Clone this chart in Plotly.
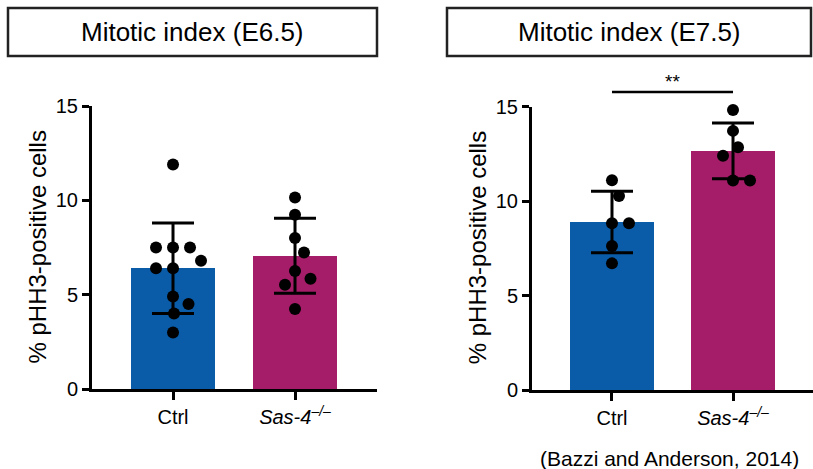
import numpy as np
import plotly.graph_objects as go

# ---------------- data ----------------
categories = ["Ctrl", "Sas-4"]
tick_labels = ["Ctrl", "<i>Sas-4</i><sup><i>–/–</i></sup>"]
panel_titles = ["Mitotic index (E6.5)", "Mitotic index (E7.5)"]
y_title = "% pHH3-positive cells"
y_ticks = [0, 5, 10, 15]

e65_ctrl = [11.9, 7.5, 7.5, 7.5, 6.8, 6.4, 6.4, 4.9, 4.5, 4.0, 3.0]
e65_sas4 = [10.15, 9.23, 8.0, 7.23, 6.26, 5.84, 5.52, 4.24]
e75_ctrl = [11.1, 10.27, 8.82, 8.82, 7.62, 6.7]
e75_sas4 = [14.82, 13.71, 12.85, 12.39, 11.08, 11.08]
significance = "**"
caption = "(Bazzi and Anderson, 2014)"

# ---------------- style / layout ----------------
W, H = 813, 469
BLUE = "#0a5ca8"
MAGENTA = "#a51d68"
FONT = "Liberation Sans, Arial, Helvetica, sans-serif"

# pixel geometry of the two panels
panels = [
    dict(x0=92, x1=377, y0=106, y1=389, xr=[-0.664, 1.672]),
    dict(x0=532, x1=813, y0=106.5, y1=390, xr=[-0.661, 1.661]),
]
YR = [0, 15]
MS = 12  # marker diameter px


def px_x(p, v):
    return p["x0"] + (v - p["xr"][0]) / (p["xr"][1] - p["xr"][0]) * (p["x1"] - p["x0"])


def beeswarm(vals, p, gap=17.0):
    """horizontal offsets (data units) so dots do not crowd each other"""
    upx = (p["x1"] - p["x0"]) / (p["xr"][1] - p["xr"][0])
    upy = (p["y1"] - p["y0"]) / (YR[1] - YR[0])
    cands = sorted(set([0.0] + [s * k * 0.5 for k in range(1, 120) for s in (1, -1)]),
                   key=lambda c: (abs(c), -c))
    placed, offs = [], []
    for v in vals:
        y = v * upy
        chosen = 0.0
        for c in cands:
            if all((c - qx) ** 2 + (y - qy) ** 2 >= gap ** 2 for qx, qy in placed):
                chosen = c
                break
        placed.append((chosen, y))
        offs.append(chosen / upx)
    return offs


fig = go.Figure()
groups = [(e65_ctrl, e65_sas4), (e75_ctrl, e75_sas4)]
colors = [BLUE, MAGENTA]

for pi, (p, grp) in enumerate(zip(panels, groups)):
    xa = "x" if pi == 0 else "x2"
    ya = "y" if pi == 0 else "y2"
    means = [float(np.mean(g)) for g in grp]
    sds = [float(np.std(g, ddof=1)) for g in grp]
    fig.add_trace(go.Bar(
        x=[0, 1], y=means, width=0.69, marker=dict(color=colors, line=dict(width=0)),
        xaxis=xa, yaxis=ya, showlegend=False, hoverinfo="skip"))
    for ci, g in enumerate(grp):
        offs = beeswarm(g, p)
        fig.add_trace(go.Scatter(
            x=[ci + o for o in offs], y=g, mode="markers",
            marker=dict(color="black", size=MS, line=dict(width=0)),
            xaxis=xa, yaxis=ya, showlegend=False, cliponaxis=False, hoverinfo="skip"))
    fig.add_trace(go.Scatter(
        x=[0, 1], y=means, mode="markers", marker=dict(size=0.1, color="black"),
        error_y=dict(type="data", array=sds, visible=True, color="black", thickness=3, width=21),
        xaxis=xa, yaxis=ya, showlegend=False, cliponaxis=False, hoverinfo="skip"))

axis_common = dict(showgrid=False, zeroline=False, showline=True, linecolor="black", linewidth=3,
                   ticks="outside", tickcolor="black", tickwidth=3, automargin=False,
                   tickfont=dict(family=FONT, size=20, color="black"))

layout = dict(
    width=W, height=H, margin=dict(l=0, r=0, t=0, b=0, pad=0, autoexpand=False),
    paper_bgcolor="white", plot_bgcolor="white", bargap=0,
    font=dict(family=FONT, color="black"),
)
for pi, p in enumerate(panels):
    sfx = "" if pi == 0 else "2"
    layout["xaxis" + sfx] = dict(axis_common, domain=[p["x0"] / W, p["x1"] / W], range=p["xr"],
                                 tickvals=[0, 1], ticktext=tick_labels, ticklen=8,
                                 tickfont=dict(family=FONT, size=20, color="black"),
                                 anchor="y" + sfx, fixedrange=True)
    layout["yaxis" + sfx] = dict(axis_common, domain=[1 - p["y1"] / H, 1 - p["y0"] / H], range=YR,
                                 tickvals=y_ticks, ticklen=7, anchor="x" + sfx, fixedrange=True)
fig.update_layout(**layout)

shapes = []
annotations = []
boxes = [(8, 377), (447, 811)]
for (bx0, bx1), t in zip(boxes, panel_titles):
    shapes.append(dict(type="rect", xref="paper", yref="paper", x0=bx0 / W, x1=bx1 / W,
                       y0=1 - 56 / H, y1=1 - 8 / H, line=dict(color="#222", width=2.5),
                       fillcolor="white"))
    annotations.append(dict(text=t, xref="paper", yref="paper", x=(bx0 + bx1) / 2 / W, y=1 - 32 / H,
                            showarrow=False, xanchor="center", yanchor="middle",
                            font=dict(family=FONT, size=26, color="black")))

for p in panels:
    annotations.append(dict(text=y_title, xref="paper", yref="paper",
                            x=(p["x0"] - 55) / W, y=1 - ((p["y0"] + p["y1"]) / 2) / H, textangle=-90,
                            showarrow=False, xanchor="center", yanchor="middle",
                            font=dict(family=FONT, size=24, color="black")))

# significance bar on right panel
p = panels[1]
sig_y = 92
shapes.append(dict(type="line", xref="paper", yref="paper", x0=px_x(p, 0) / W, x1=px_x(p, 1) / W,
                   y0=1 - sig_y / H, y1=1 - sig_y / H, line=dict(color="black", width=2.5)))
annotations.append(dict(text=significance, xref="paper", yref="paper", x=px_x(p, 0.5) / W, y=1 - (sig_y + 2) / H,
                        showarrow=False, xanchor="center", yanchor="bottom",
                        font=dict(family=FONT, size=19, color="black")))
annotations.append(dict(text=caption, xref="paper", yref="paper", x=669 / W, y=1 - 458 / H,
                        showarrow=False, xanchor="center", yanchor="middle",
                        font=dict(family=FONT, size=21, color="black")))

fig.update_layout(shapes=shapes, annotations=annotations)
fig.write_html("out.html", config={"displayModeBar": False, "staticPlot": True},
               post_script="document.body.style.margin='0';document.body.style.padding='0';")
